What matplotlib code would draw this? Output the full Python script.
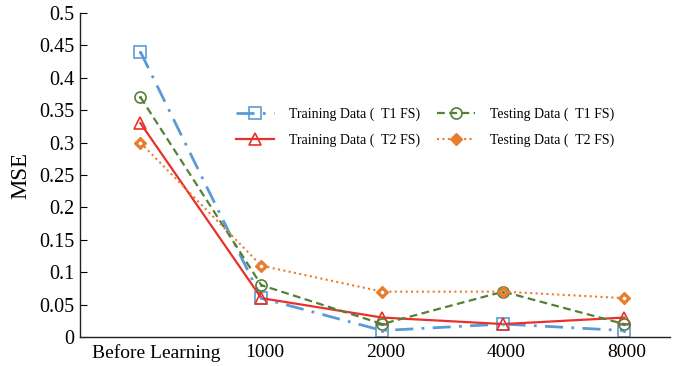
import matplotlib
matplotlib.use("Agg")
import matplotlib.pyplot as plt
import matplotlib.transforms as mtransforms
import numpy as np

categories = ["Before Learning", "1000", "2000", "4000", "8000"]
train_t1 = [0.44, 0.06, 0.01, 0.02, 0.01]
train_t2 = [0.33, 0.06, 0.03, 0.02, 0.03]
test_t1 = [0.37, 0.08, 0.02, 0.07, 0.02]
test_t2 = [0.30, 0.11, 0.07, 0.07, 0.06]
yticks = [0, 0.05, 0.1, 0.15, 0.2, 0.25, 0.3, 0.35, 0.4, 0.45, 0.5]
ytick_labels = ["0", "0.05", "0.1", "0.15", "0.2", "0.25", "0.3", "0.35", "0.4", "0.45", "0.5"]

plt.rcParams["font.family"] = ["Liberation Serif", "DejaVu Serif"]

fig = plt.figure(figsize=(6.79, 3.66), dpi=100)
ax = fig.add_axes([0.1178, 0.0792, 0.869, 0.8853])
x = np.arange(len(categories))

blue = "#5b9bd5"
red = "#e8312b"
green = "#538135"
orange = "#e87d2f"

ax.plot(x, train_t1, color=blue, lw=2.0, ls=(0, (6.5, 3, 1, 3)), marker="s", ms=8,
        mfc="none", mec=blue, mew=1.2, label="Training Data (  T1 FS)")
ax.plot(x, train_t2, color=red, lw=1.6, ls="-", marker="^", ms=8,
        mfc="none", mec=red, mew=1.2, label="Training Data (  T2 FS)")
ax.plot(x, test_t1, color=green, lw=1.6, ls=(0, (3.5, 2)), marker="o", ms=8,
        mfc="none", mec=green, mew=1.2, label="Testing Data (  T1 FS)")
ax.plot(x, test_t2, color=orange, lw=1.5, ls=(0, (1, 1.6)), marker="D", ms=6.5,
        mfc=orange, mec=orange, mew=1.0, label="Testing Data (  T2 FS)")
# small centre dots in the markers
ax.plot(x, test_t2, ls="none", marker="o", ms=1.6, mfc="white", mec="white")
ax.plot(x, train_t1, ls="none", marker="o", ms=1.2, mfc=blue, mec=blue)
ax.plot(x, test_t1, ls="none", marker="o", ms=1.2, mfc=green, mec=green)

ax.set_xlim(-0.5, 4.38)
ax.set_ylim(0, 0.5)
ax.set_xticks(x)
ax.set_xticklabels(categories, fontsize=14)
ax.set_yticks(yticks)
ax.set_yticklabels(ytick_labels, fontsize=14.5)
ax.tick_params(axis="y", direction="in", length=5, width=0.8, pad=4)
ax.tick_params(axis="x", length=0, pad=5)
ax.set_ylabel("MSE", fontsize=16.5, labelpad=6)

# nudge the category labels slightly to the right
for i, lbl in enumerate(ax.get_xticklabels()):
    dx = 16 if i == 0 else 3
    lbl.set_transform(lbl.get_transform() +
                      mtransforms.ScaledTranslation(dx / 100, 0, fig.dpi_scale_trans))

for s in ["top", "right"]:
    ax.spines[s].set_visible(False)
for s in ["left", "bottom"]:
    ax.spines[s].set_linewidth(1.0)
    ax.spines[s].set_color("#222222")

ax.legend(loc="center", bbox_to_anchor=(0.585, 0.647), ncol=2, frameon=False,
          fontsize=10, handlelength=2.75, columnspacing=1.2, labelspacing=0.85,
          handletextpad=1.1)

fig.savefig("out.png", dpi=100)
